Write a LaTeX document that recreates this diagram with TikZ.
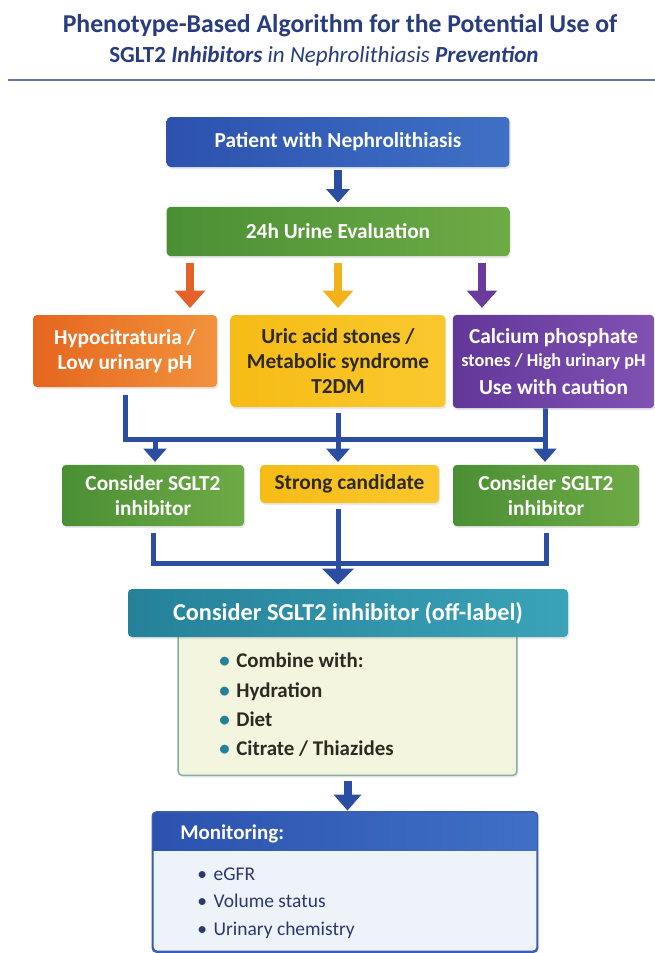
\documentclass[tikz,border=0pt]{standalone}
\usepackage{fontspec}
\setmainfont{Carlito}
\usetikzlibrary{arrows.meta,shadows}

\definecolor{titlenavy}{HTML}{283C80}
\definecolor{rulegray}{HTML}{6274A8}
\definecolor{arrowblue}{HTML}{2B4EA2}
\definecolor{blueL}{HTML}{2C52AE}
\definecolor{blueR}{HTML}{3F70C6}
\definecolor{greenL}{HTML}{4B8F35}
\definecolor{greenR}{HTML}{6DAB45}
\definecolor{orangeL}{HTML}{E5661F}
\definecolor{orangeR}{HTML}{F2923C}
\definecolor{orangearr}{HTML}{E3622A}
\definecolor{yellowL}{HTML}{F6BC16}
\definecolor{yellowR}{HTML}{FAC82E}
\definecolor{yellowarr}{HTML}{F2B21B}
\definecolor{purpleL}{HTML}{62379A}
\definecolor{purpleR}{HTML}{8052B2}
\definecolor{purplearr}{HTML}{6A3A9C}
\definecolor{tealL}{HTML}{25819A}
\definecolor{tealR}{HTML}{3AA3B8}
\definecolor{panelbg}{HTML}{F3F5DE}
\definecolor{panelline}{HTML}{86AE9C}
\definecolor{darktext}{HTML}{2E2A22}
\definecolor{monbg}{HTML}{EEF2F9}
\definecolor{monline}{HTML}{3A5FB0}
\definecolor{montext}{HTML}{2A3870}

\begin{document}
\begin{tikzpicture}[
    x=0.75pt, y=-0.75pt,
    box/.style={rectangle, rounded corners=3pt, inner sep=0pt, align=center, font=\bfseries\fontsize{16}{18.5}\selectfont,
      drop shadow={opacity=0.18, shadow xshift=1pt, shadow yshift=-1.5pt}},
    bluebox/.style={box, left color=blueL, right color=blueR, text=white},
    greenbox/.style={box, left color=greenL, right color=greenR, text=white},
    orangebox/.style={box, left color=orangeL, right color=orangeR, text=white},
    yellowbox/.style={box, left color=yellowL, right color=yellowR, text=darktext},
    purplebox/.style={box, left color=purpleL, right color=purpleR, text=white},
    tealbox/.style={box, left color=tealL, right color=tealR, text=white},
    bline/.style={draw=arrowblue, line width=3.75pt},
    barrow/.style={bline, -{Triangle[width=17pt,length=10pt]}},
    bigarrow/.style={line width=6.5pt, -{Triangle[width=22pt,length=13pt]}},
    listtext/.style={anchor=west, align=left, inner sep=0pt}
  ]
    \fill[white] (0,0) rectangle (655,953);
    \useasboundingbox (0,0) rectangle (655,953);

    % title
    \node[font=\bfseries\fontsize{19.3}{23}\selectfont, text=titlenavy] (title1) at (340,26)
      {Phenotype-Based Algorithm for the Potential Use of};
    \node[font=\fontsize{17.3}{21}\selectfont, text=titlenavy] (title2) at (324,56)
      {\textbf{SGLT2} \textbf{\textit{Inhibitors}} \textit{in Nephrolithiasis} \textbf{\textit{Prevention}}};
    \draw[rulegray, line width=1.5pt] (8,80) -- (655,80);

    \node[bluebox, minimum width=257pt, minimum height=37.5pt] (patient) at (338,142) {Patient with Nephrolithiasis};
    \node[greenbox, minimum width=257pt, minimum height=37pt] (urine) at (338,231.5) {24h Urine Evaluation};

    \node[orangebox, minimum width=138pt, minimum height=54pt] (hypo) at (125,351) {Hypocitraturia /\\Low urinary pH};
    \node[yellowbox, minimum width=161pt, minimum height=69pt] (uric) at (338,361) {Uric acid stones /\\Metabolic syndrome\\T2DM};
    \node[purplebox, minimum width=151pt, minimum height=70pt] (calc) at (553.5,361.5)
      {Calcium phosphate\\[-1pt]{\fontsize{13.7}{16}\selectfont stones / High urinary pH}\\[2pt]Use with caution};

    \node[greenbox, minimum width=136.5pt, minimum height=46pt] (cons1) at (153,495.5) {Consider SGLT2\\inhibitor};
    \node[yellowbox, minimum width=134pt, minimum height=28.5pt] (strong) at (349.5,484) {Strong candidate};
    \node[greenbox, minimum width=139.5pt, minimum height=46pt] (cons2) at (546,495.5) {Consider SGLT2\\inhibitor};

    % treatment panel
    \node[box, fill=panelbg, draw=panelline, line width=1.1pt, minimum width=254pt, minimum height=110pt] (panel) at (347.5,702) {};
    \node[tealbox, minimum width=330pt, minimum height=36pt, font=\bfseries\fontsize{18.2}{21}\selectfont] (offlabel) at (348,613)
      {Consider SGLT2 inhibitor (off-label)};
    \node[listtext, font=\bfseries\fontsize{15.7}{22}\selectfont, text=darktext] (combine) at (219,705)
      {{\color{tealL}•}\hspace{5pt}Combine with:\\{\color{tealL}•}\hspace{5pt}Hydration\\{\color{tealL}•}\hspace{5pt}Diet\\{\color{tealL}•}\hspace{5pt}Citrate / Thiazides};

    % monitoring
    \node[box, fill=monbg, draw=monline, line width=1.1pt, minimum width=288pt, minimum height=104pt] (monbox) at (345,882) {};
    \begin{scope}
      \clip[rounded corners=3pt] (monbox.south west) rectangle (monbox.north east);
      \shade[left color=blueL, right color=blueR] (monbox.north west) rectangle ([yshift=-29pt]monbox.north east);
    \end{scope}
    \draw[monline, line width=1.1pt, rounded corners=3pt] (monbox.south west) rectangle (monbox.north east);
    \node[listtext, font=\bfseries\fontsize{15.7}{18}\selectfont, text=white] (monhead) at (180,834) {Monitoring:};
    \node[listtext, font=\fontsize{14.6}{20.6}\selectfont, text=montext] (monlist) at (197,903)
      {•\hspace{5pt}eGFR\\•\hspace{5pt}Volume status\\•\hspace{5pt}Urinary chemistry};

    % connectors
    \coordinate (c1) at (190,256);
    \coordinate (c3) at (482,256);
    \coordinate (jl) at (155,439);
    \coordinate (jr) at (545,439);
    \coordinate (jb) at (338,563);

    \draw[barrow, line width=6pt, shorten <=2pt, shorten >=3pt] (patient) -- (urine);
    \draw[bigarrow, orangearr, shorten <=5pt, shorten >=5pt] (c1) -- (c1 |- hypo.north);
    \draw[bigarrow, yellowarr, shorten <=5pt, shorten >=5pt] (urine.south) -- (urine.south |- uric.north);
    \draw[bigarrow, purplearr, shorten <=5pt, shorten >=5pt] (c3) -- (c3 |- calc.north);

    \draw[bline, shorten <=6pt] (hypo.south) |- (jr) -- (jr |- calc.south) -- ([yshift=-6pt]jr |- calc.south);
    \draw[barrow, shorten >=2pt] (jl) -- (jl |- cons1.north);
    \draw[barrow, shorten <=4pt, shorten >=2pt] (uric.south) -- (uric.south |- strong.north);
    \draw[barrow, shorten >=2pt] (jr) -- (jr |- cons2.north);

    \draw[bline, shorten <=5pt, shorten >=5pt] (cons1.south) -- (cons1.south |- jb) -- (cons2.south |- jb) -- (cons2.south);
    \draw[barrow, shorten <=4pt, shorten >=3pt, -{Triangle[width=23pt,length=12pt]}] (strong.south -| jb) -- (jb |- offlabel.north);
    \draw[barrow, line width=6pt, shorten <=4pt, shorten >=1pt, -{Triangle[width=20pt,length=12pt]}] (panel.south) -- (panel.south |- monbox.north);
  \end{tikzpicture}
\end{document}
